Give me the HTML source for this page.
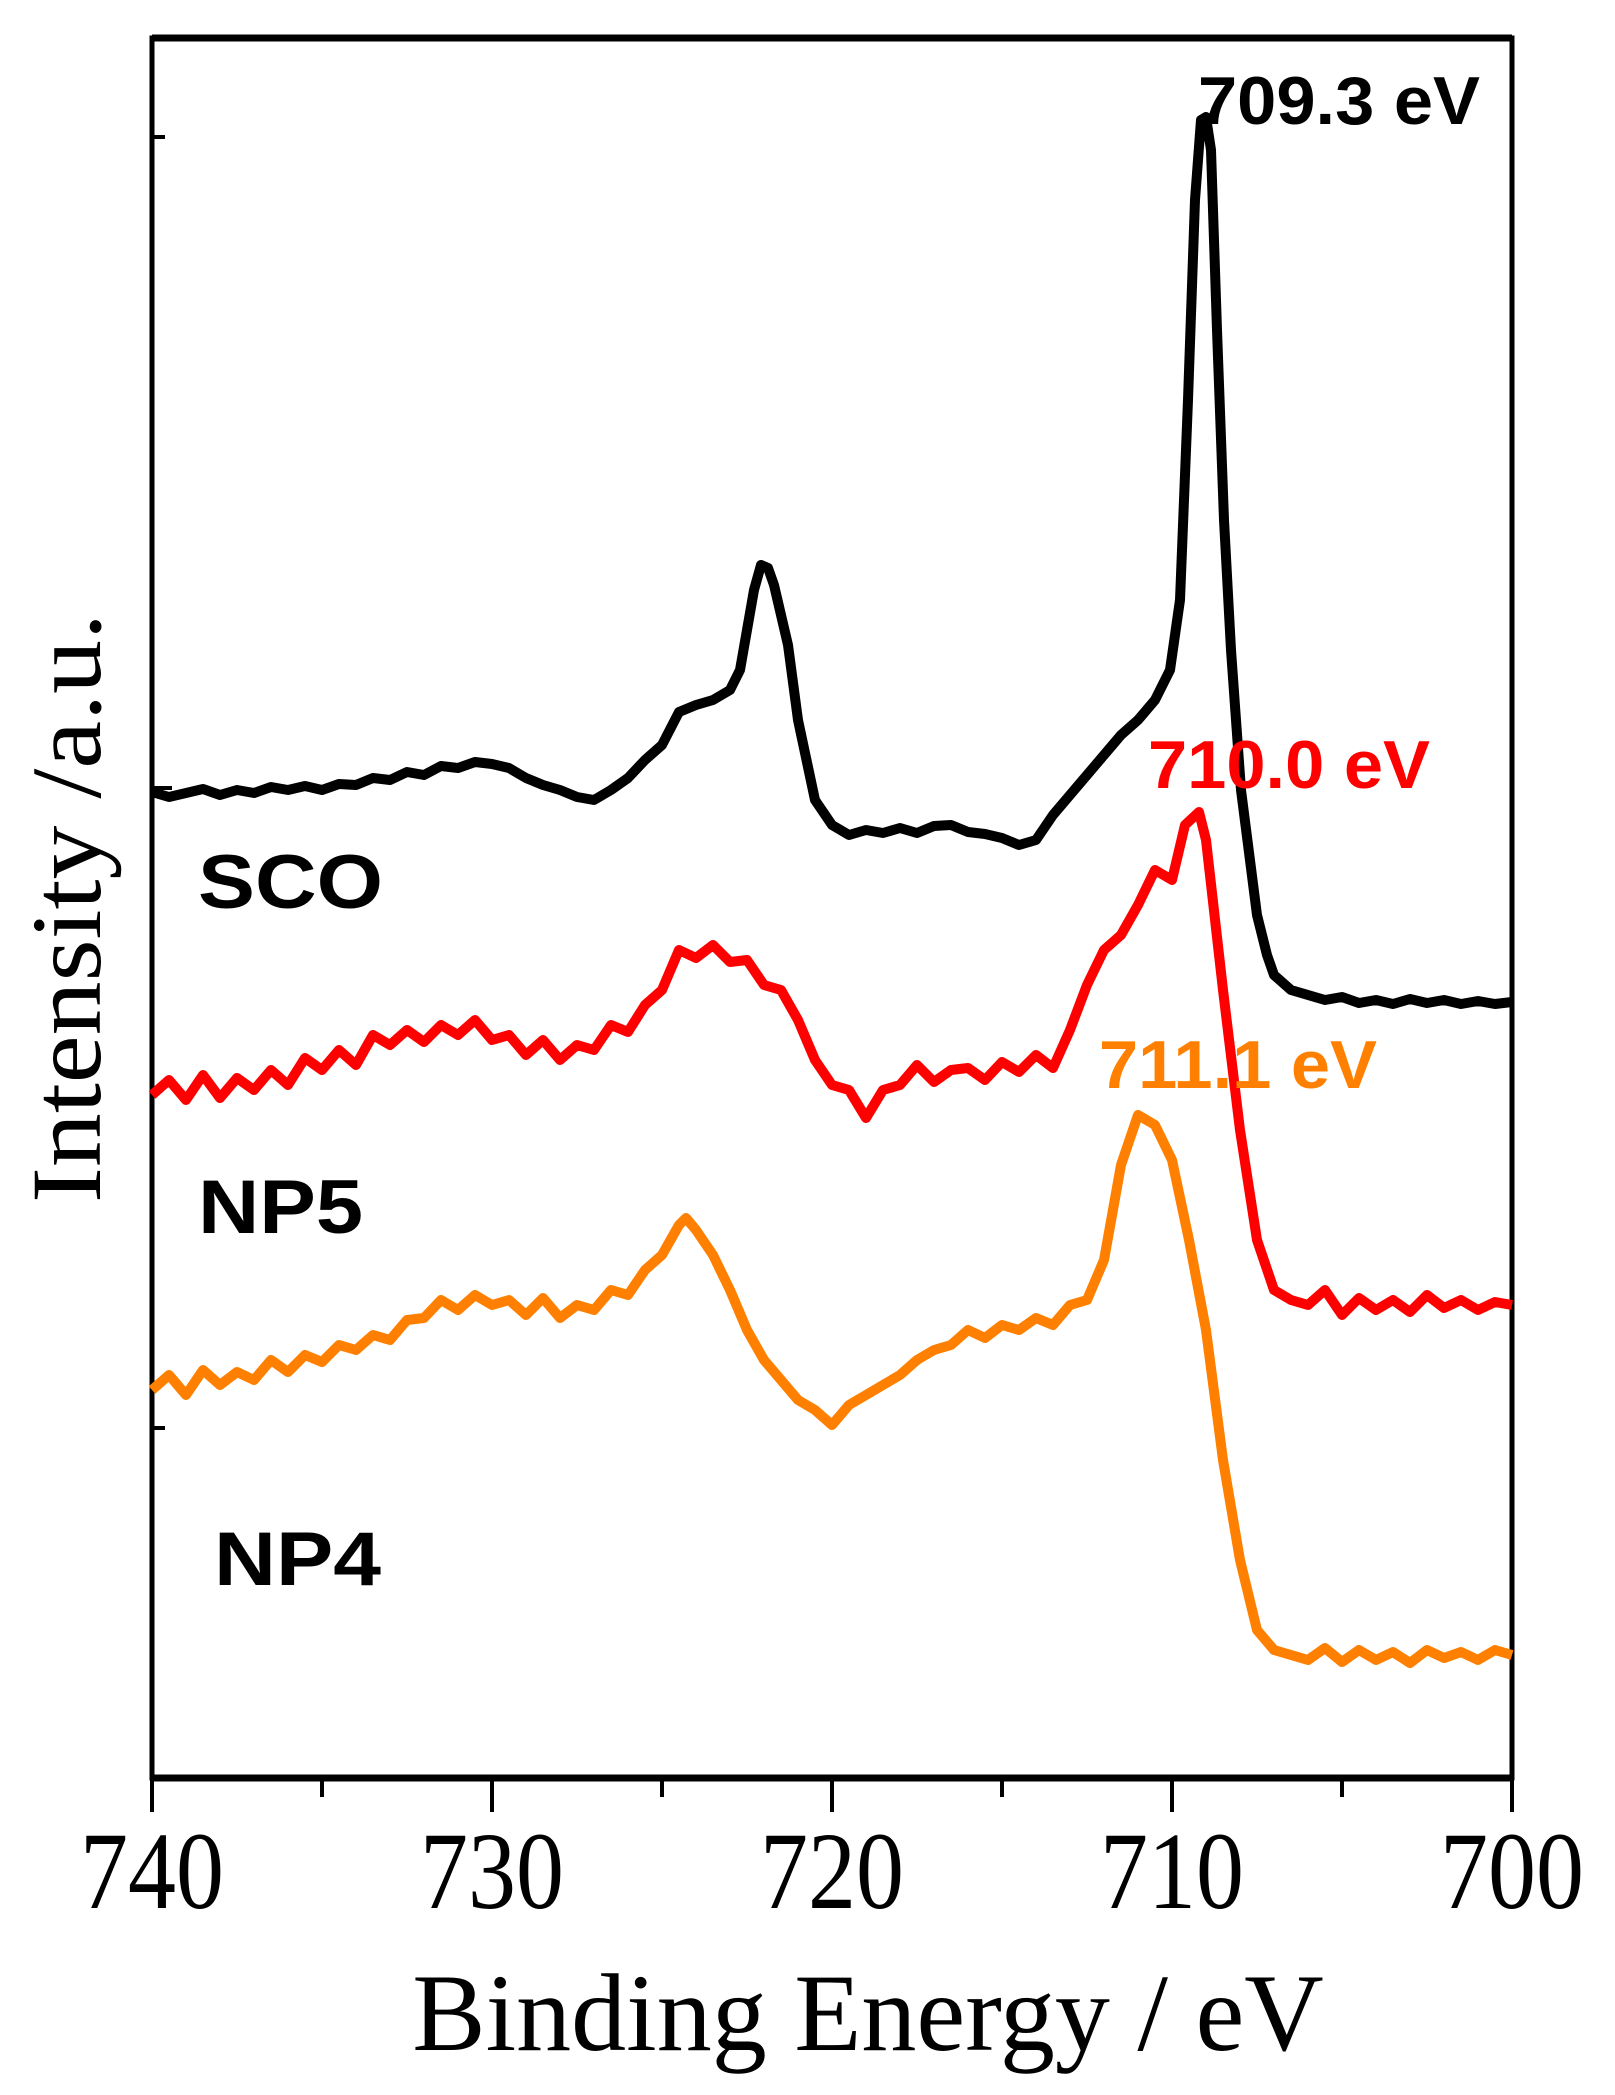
<!DOCTYPE html>
<html><head><meta charset="utf-8"><style>
html,body{margin:0;padding:0;background:#fff;}
svg{display:block;}
</style></head><body>
<svg width="1615" height="2095" viewBox="0 0 1615 2095" xmlns="http://www.w3.org/2000/svg">
<g fill="none" stroke="#000">
<rect x="152" y="38" width="1360" height="1740" stroke-width="5"/>
<line x1="152" y1="1778" x2="1512" y2="1778" stroke-width="7"/>
<line x1="152" y1="38" x2="1512" y2="38" stroke-width="7"/>
<g stroke-width="4">
<line x1="152" y1="1778" x2="152" y2="1812"/><line x1="322" y1="1778" x2="322" y2="1797"/>
<line x1="492" y1="1778" x2="492" y2="1812"/><line x1="662" y1="1778" x2="662" y2="1797"/>
<line x1="832" y1="1778" x2="832" y2="1812"/><line x1="1002" y1="1778" x2="1002" y2="1797"/>
<line x1="1172" y1="1778" x2="1172" y2="1812"/><line x1="1342" y1="1778" x2="1342" y2="1797"/>
<line x1="1512" y1="1778" x2="1512" y2="1812"/>
<line x1="152" y1="137" x2="165" y2="137"/><line x1="152" y1="788" x2="172" y2="788"/><line x1="152" y1="1428" x2="165" y2="1428"/>
</g>
</g>
<g fill="none" stroke-width="10" stroke-linejoin="round">
<polyline stroke="#000" points="152,792 169,797 186,793 203,789 220,795 237,790 254,793 271,787 288,790 305,786 322,790 339,784 356,785 373,778 390,780 407,772 424,775 441,766 458,768 475,762 492,764 509,768 526,778 543,785 560,790 577,797 594,800 611,790 628,778 645,760 662,745 679,712 696,705 713,700 730,690 740,670 747,630 754,590 761,565 768,568 774,585 781,615 788,645 798,720 815,800 832,825 849,835 866,830 883,833 900,828 917,833 934,826 951,825 968,832 985,834 1002,838 1019,845 1036,840 1053,815 1070,795 1087,775 1104,755 1121,735 1138,720 1155,700 1170,670 1180,600 1188,400 1195,200 1201,120 1206,117 1211,150 1217,330 1224,520 1231,650 1241,790 1257,915 1267,955 1274,975 1291,990 1308,995 1325,1000 1342,997 1359,1003 1376,1000 1393,1004 1410,999 1427,1003 1444,1000 1461,1004 1478,1001 1495,1004 1512,1002"/>
<polyline stroke="#ff0000" points="152,1095 169,1080 186,1100 203,1075 220,1098 237,1078 254,1090 271,1070 288,1085 305,1058 322,1070 339,1050 356,1065 373,1035 390,1045 407,1030 424,1042 441,1025 458,1035 475,1020 492,1040 509,1035 526,1055 543,1040 560,1060 577,1045 594,1050 611,1025 628,1032 645,1005 662,990 679,950 696,958 713,945 730,962 747,960 764,985 781,990 798,1020 815,1060 832,1085 849,1090 866,1118 883,1090 900,1085 917,1065 934,1082 951,1070 968,1068 985,1080 1002,1062 1019,1072 1036,1055 1053,1068 1070,1030 1087,985 1104,950 1121,935 1138,905 1155,870 1172,880 1185,825 1199,812 1206,840 1223,990 1240,1130 1257,1240 1274,1290 1291,1300 1308,1305 1325,1290 1342,1315 1359,1298 1376,1310 1393,1300 1410,1312 1427,1295 1444,1308 1461,1300 1478,1310 1495,1302 1512,1305"/>
<polyline stroke="#ff8000" points="152,1390 169,1375 186,1395 203,1370 220,1385 237,1372 254,1380 271,1360 288,1372 305,1355 322,1362 339,1345 356,1350 373,1335 390,1340 407,1320 424,1318 441,1300 458,1310 475,1295 492,1305 509,1300 526,1315 543,1298 560,1318 577,1305 594,1310 611,1290 628,1295 645,1270 662,1255 679,1225 686,1218 696,1230 713,1255 730,1290 747,1330 764,1360 781,1380 798,1400 815,1410 832,1425 849,1405 866,1395 883,1385 900,1375 917,1360 934,1350 951,1345 968,1330 985,1338 1002,1325 1019,1330 1036,1318 1053,1325 1070,1305 1087,1300 1104,1260 1121,1165 1138,1115 1155,1125 1172,1160 1189,1240 1206,1330 1223,1460 1240,1560 1257,1630 1274,1650 1291,1655 1308,1660 1325,1648 1342,1662 1359,1650 1376,1660 1393,1652 1410,1663 1427,1650 1444,1658 1461,1652 1478,1660 1495,1650 1512,1655"/>
</g>
<g font-family="'Liberation Serif',serif" font-size="96" text-anchor="middle" fill="#000">
<text x="152" y="1908" transform="translate(0,-286) scale(1,1.15)">740</text>
<text x="492" y="1908" transform="translate(0,-286) scale(1,1.15)">730</text>
<text x="832" y="1908" transform="translate(0,-286) scale(1,1.15)">720</text>
<text x="1172" y="1908" transform="translate(0,-286) scale(1,1.15)">710</text>
<text x="1512" y="1908" transform="translate(0,-286) scale(1,1.15)">700</text>
<text x="868" y="2050" font-size="110">Binding Energy / eV</text>
<text transform="translate(100,908) rotate(-90)" font-size="100" textLength="590" lengthAdjust="spacingAndGlyphs">Intensity /a.u.</text>
</g>
<g font-family="'Liberation Sans',sans-serif" font-weight="bold" font-size="76">
<text x="198" y="908" textLength="185" lengthAdjust="spacingAndGlyphs">SCO</text>
<text x="198" y="1233" textLength="165" lengthAdjust="spacingAndGlyphs">NP5</text>
<text x="214" y="1585" textLength="167" lengthAdjust="spacingAndGlyphs">NP4</text>
<text x="1198" y="124" font-size="68" textLength="282" lengthAdjust="spacingAndGlyphs">709.3 eV</text>
<text x="1148" y="788" font-size="68" fill="#ff0000" textLength="282" lengthAdjust="spacingAndGlyphs">710.0 eV</text>
<text x="1099" y="1088" font-size="68" fill="#ff8000" textLength="278" lengthAdjust="spacingAndGlyphs">711.1 eV</text>
</g>
</svg>
</body></html>
